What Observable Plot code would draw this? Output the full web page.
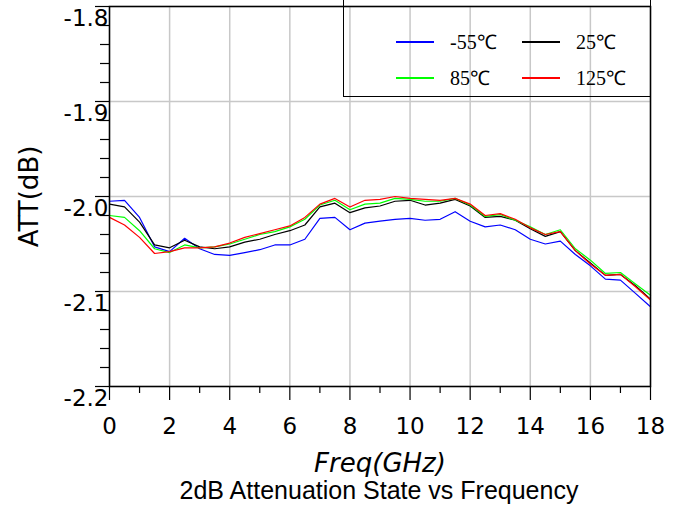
<!DOCTYPE html>
<html><head><meta charset="utf-8">
<script src="https://cdn.jsdelivr.net/npm/d3@7"></script>
<script src="https://cdn.jsdelivr.net/npm/@observablehq/plot@0.6"></script>
<style>
body{margin:0;background:#fff;width:684px;height:517px;overflow:hidden;position:relative;font-family:"DejaVu Sans",sans-serif}
#chart svg{overflow:hidden;display:block}
#legend{position:absolute;left:343px;top:-2px;width:306px;height:98px;border:1px solid #000;border-top:none;font-family:"Liberation Serif",serif;font-size:20px;color:#000}
.item{position:absolute;display:flex;align-items:center}
.sw{width:38px;height:2px;margin-right:16px}
#title{position:absolute;left:0;width:758px;top:476px;text-align:center;font-family:"Liberation Sans",Arial,sans-serif;font-size:25px;line-height:29px;color:#000}
</style></head>
<body>
<div id="chart"></div>
<div id="legend"></div>
<div id="title">2dB Attenuation State vs Frequency</div>
<script>
const freq = [0,0.5,1,1.5,2,2.5,3,3.5,4,4.5,5,5.5,6,6.5,7,7.5,8,8.5,9,9.5,10,10.5,11,11.5,12,12.5,13,13.5,14,14.5,15,15.5,16,16.5,17,17.5,18];
const seriesNames = ["-55℃","25℃","85℃","125℃"];
const seriesColors = ["#0000ff","#000000","#00ff00","#ff0000"];
const attM55 = [-2.005,-2.004,-2.022,-2.053,-2.058,-2.044,-2.055,-2.061,-2.062,-2.059,-2.056,-2.051,-2.051,-2.045,-2.023,-2.022,-2.035,-2.028,-2.026,-2.024,-2.023,-2.025,-2.024,-2.016,-2.026,-2.032,-2.030,-2.035,-2.045,-2.050,-2.047,-2.061,-2.073,-2.087,-2.088,-2.102,-2.116];
const att25 = [-2.008,-2.011,-2.027,-2.051,-2.054,-2.046,-2.053,-2.055,-2.053,-2.048,-2.045,-2.040,-2.036,-2.030,-2.011,-2.007,-2.017,-2.012,-2.010,-2.005,-2.004,-2.009,-2.007,-2.003,-2.010,-2.022,-2.021,-2.025,-2.034,-2.042,-2.037,-2.057,-2.070,-2.083,-2.082,-2.094,-2.108];
const att85 = [-2.020,-2.022,-2.036,-2.055,-2.059,-2.051,-2.054,-2.053,-2.050,-2.045,-2.040,-2.037,-2.032,-2.024,-2.009,-2.004,-2.014,-2.008,-2.007,-2.002,-2.003,-2.005,-2.005,-2.002,-2.009,-2.021,-2.019,-2.025,-2.032,-2.040,-2.035,-2.055,-2.067,-2.081,-2.080,-2.092,-2.104];
const att125 = [-2.022,-2.030,-2.043,-2.060,-2.058,-2.054,-2.054,-2.053,-2.049,-2.043,-2.039,-2.035,-2.031,-2.022,-2.008,-2.002,-2.011,-2.004,-2.003,-2.000,-2.002,-2.003,-2.004,-2.002,-2.008,-2.020,-2.018,-2.024,-2.033,-2.040,-2.037,-2.057,-2.071,-2.083,-2.082,-2.095,-2.109];
const xTicks = [0,2,4,6,8,10,12,14,16,18];
const xMinor = [1,3,5,7,9,11,13,15,17];
const yTicks = [-2.2,-2.1,-2.0,-1.9,-1.8];
const yTickLabels = ["-2.2","-2.1","-2.0","-1.9","-1.8"];
const yMinor = [-2.18,-2.16,-2.14,-2.12,-2.08,-2.06,-2.04,-2.02,-1.98,-1.96,-1.94,-1.92,-1.88,-1.86,-1.84,-1.82];
const xLabel = "Freq(GHz)";
const yLabel = "ATT(dB)";

const allSeries = [attM55, att25, att85, att125];
const rows = [];
allSeries.forEach((vals, si) => vals.forEach((v, i) => rows.push({f: freq[i], v, s: seriesNames[si]})));

const tickFont = {fontSize: 23, fontFamily: "DejaVu Sans, sans-serif"};
const plot = Plot.plot({
  width: 684, height: 477,
  marginLeft: 109, marginRight: 34, marginTop: 6, marginBottom: 91,
  x: {domain: [0, 18]},
  y: {domain: [-2.2, -1.8]},
  color: {domain: seriesNames, range: seriesColors},
  style: {background: "#fff", color: "#000"},
  marks: [
    Plot.gridX(xTicks, {stroke: "#c8c8c8", strokeOpacity: 1, strokeWidth: 1.5}),
    Plot.gridY(yTicks, {stroke: "#c8c8c8", strokeOpacity: 1, strokeWidth: 1.5}),
    Plot.line(rows, {x: "f", y: "v", z: "s", stroke: "s", strokeWidth: 1.2}),
    Plot.axisX(xTicks, {tickSize: 14, text: null, label: null, strokeWidth: 1.2}),
    Plot.axisX(xMinor, {tickSize: 7, text: null, label: null, strokeWidth: 1.2}),
    Plot.axisX(xTicks, {tickSize: 0, tickPadding: 31, ...tickFont, label: null}),
    Plot.axisY(yTicks, {tickSize: 14, text: null, label: null, strokeWidth: 1.2}),
    Plot.axisY(yMinor, {tickSize: 9, text: null, label: null, strokeWidth: 1.2}),
    Plot.axisY(yTicks, {tickSize: 0, tickPadding: 1, dy: 12, tickFormat: (d, i) => yTickLabels[i], ...tickFont, label: null}),
    Plot.text([xLabel], {frameAnchor: "bottom", dy: 85, fontSize: 26, fontStyle: "italic", fontFamily: "DejaVu Sans, sans-serif", fill: "#000"}),
    Plot.text([yLabel], {frameAnchor: "left", textAnchor: "middle", dx: -80, rotate: -90, fontSize: 26, fontFamily: "DejaVu Sans, sans-serif", fill: "#000"}),
    Plot.frame({stroke: "#000", strokeWidth: 1.5})
  ]
});
document.getElementById("chart").appendChild(plot);

const legend = document.getElementById("legend");
const pos = [[52, 44], [178, 44], [52, 80], [178, 80]];
seriesNames.forEach((n, i) => {
  const d = document.createElement("div");
  d.className = "item";
  d.style.left = pos[i][0] + "px";
  d.style.top = (pos[i][1] - 14) + "px";
  d.innerHTML = `<span class="sw" style="background:${seriesColors[i]}"></span><span>${n}</span>`;
  legend.appendChild(d);
});
</script>
</body></html>
